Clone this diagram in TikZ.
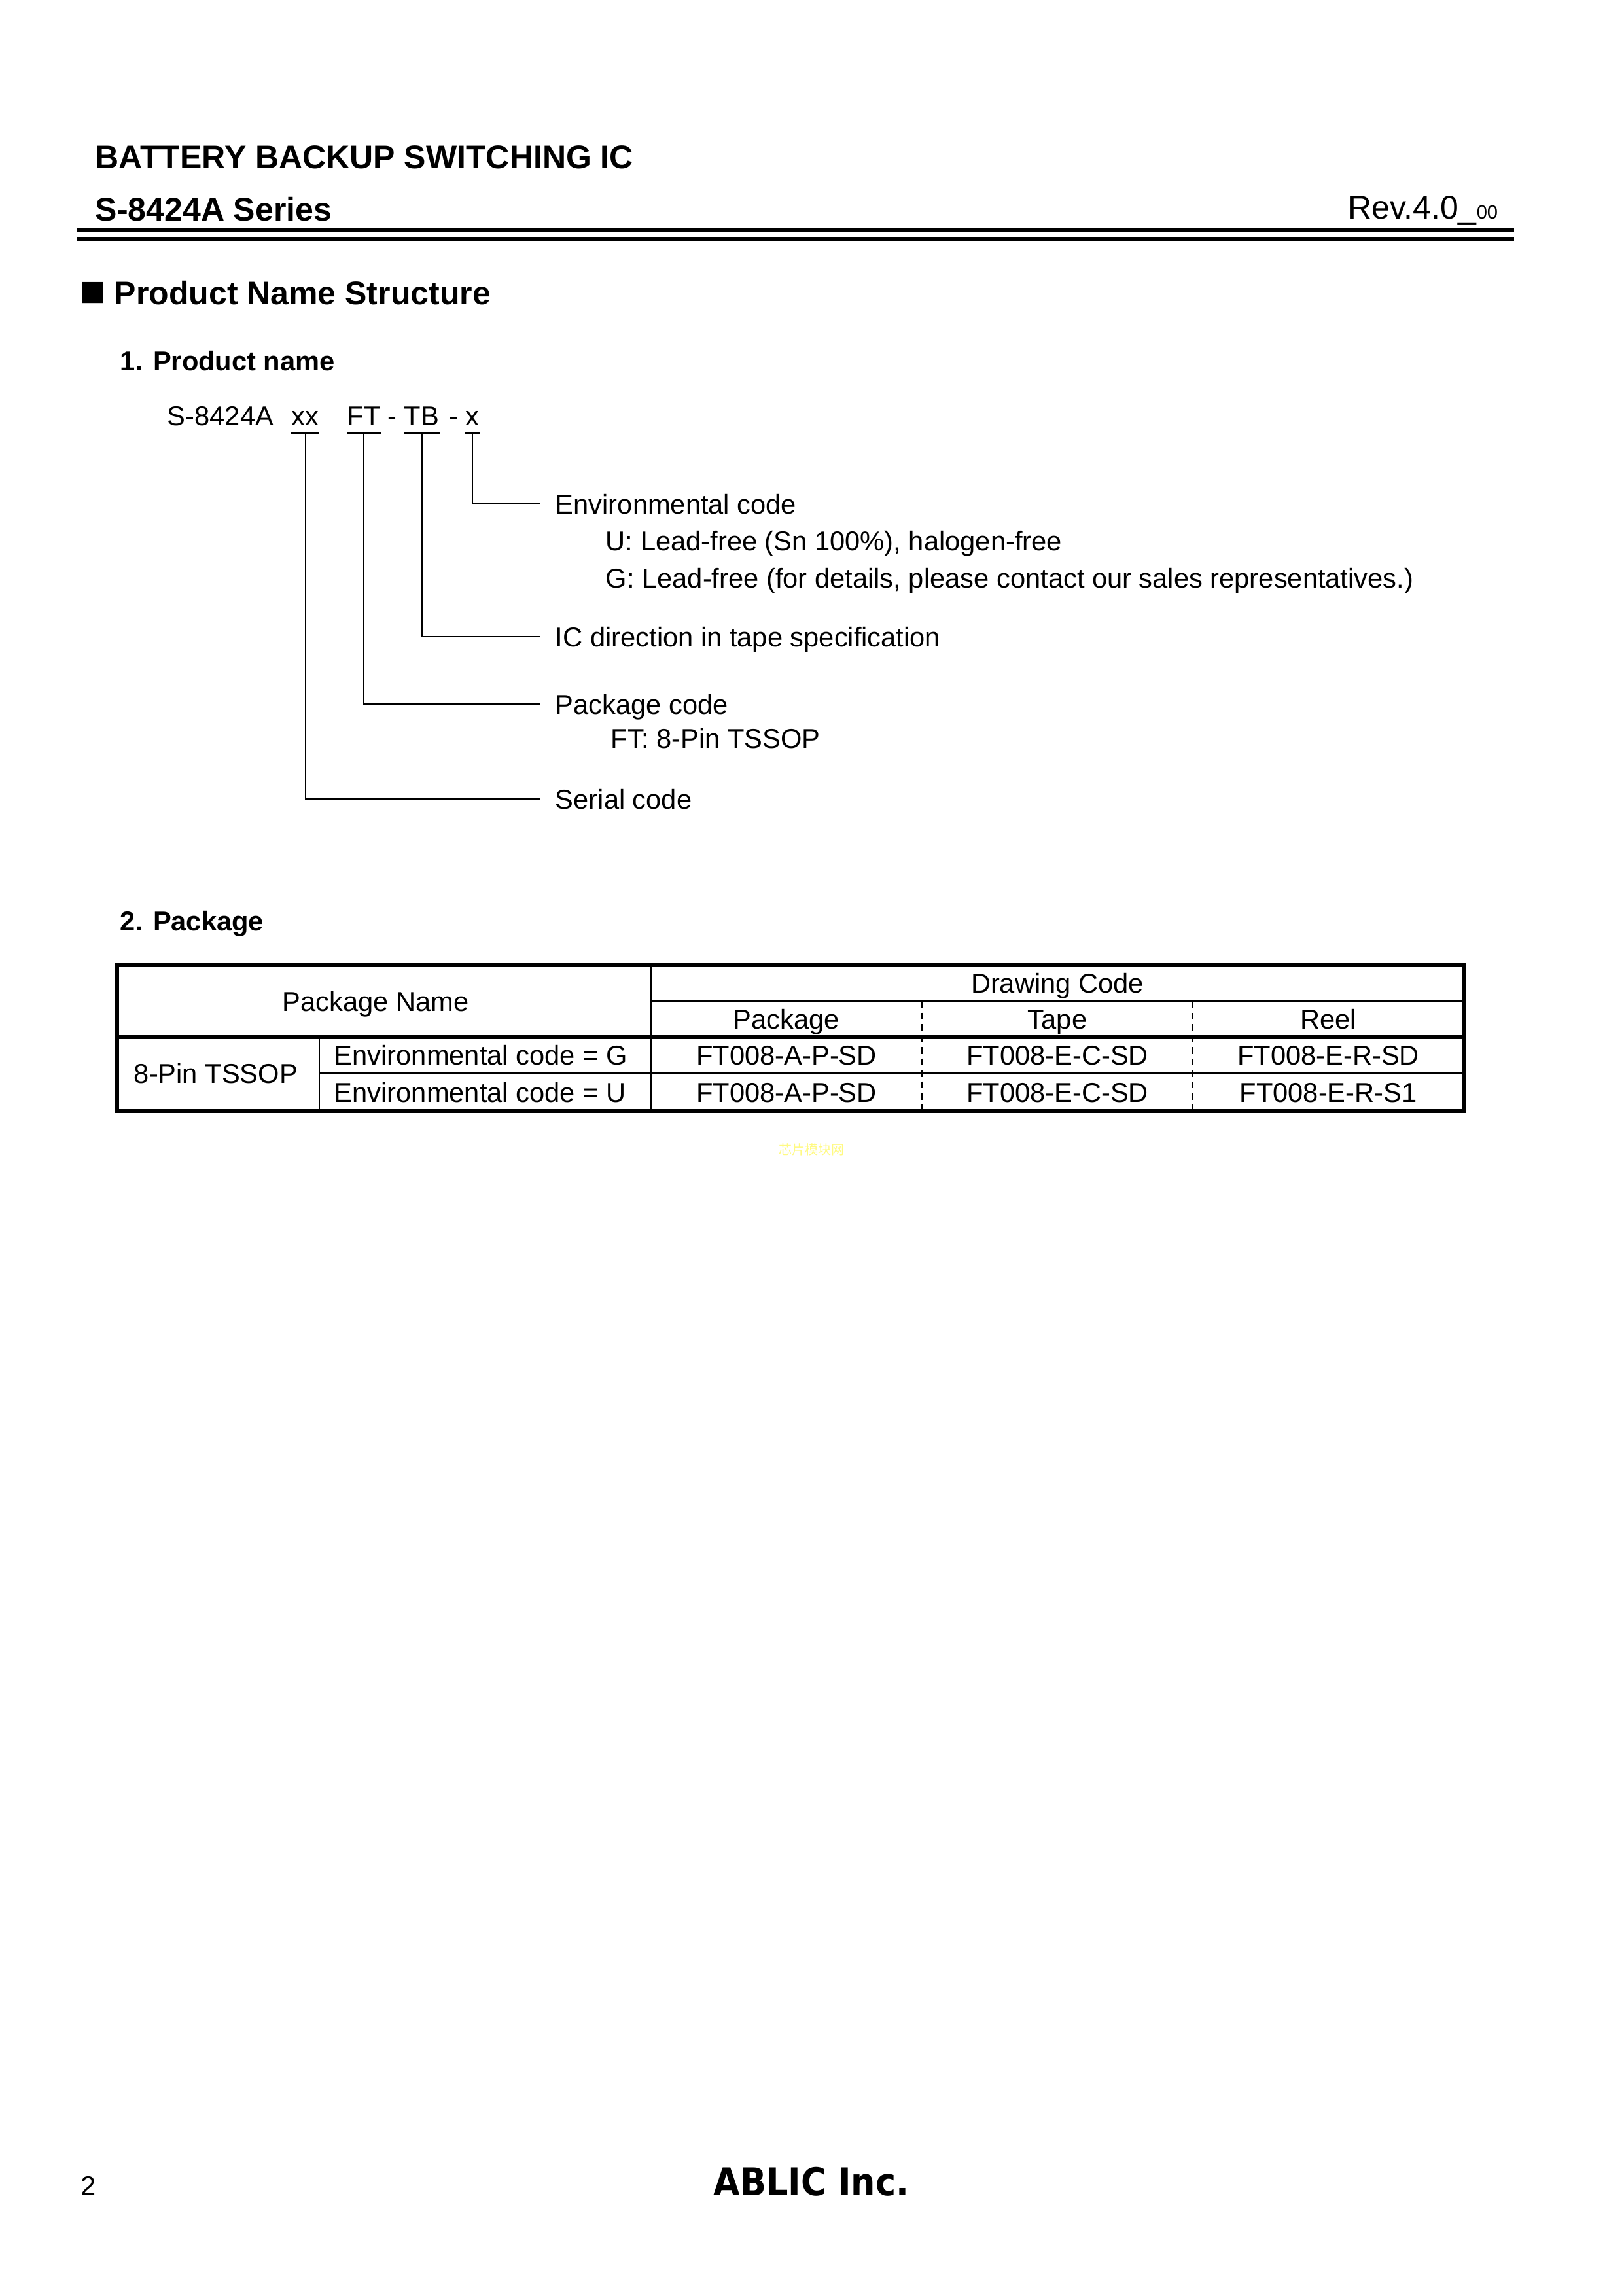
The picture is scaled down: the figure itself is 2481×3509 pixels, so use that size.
\documentclass[tikz,border=0pt]{standalone}
\usepackage{fontspec}
\setmainfont{Liberation Sans}
\newfontfamily\cjkfont{Noto Sans CJK SC}
\newfontfamily\logofont{DejaVu Sans}
\usepackage{tikz}
\usepackage{xcolor}
\usetikzlibrary{positioning, calc}
\definecolor{markyellow}{RGB}{255,250,130}

\begin{document}
\begin{tikzpicture}[
    x=0.24pt, y=-0.24pt,
    pagetext/.style={anchor=base west, inner sep=0pt, font=\fontsize{10}{12}\selectfont},
    headtext/.style={anchor=base west, inner sep=0pt, font=\fontsize{12}{14}\selectfont\bfseries},
    subtext/.style={anchor=base west, inner sep=0pt, font=\fontsize{10}{12}\selectfont\bfseries},
    codepart/.style={anchor=base west, inner xsep=0pt, inner ysep=2.4pt, font=\fontsize{10}{12}\selectfont},
    codelabel/.style={anchor=west, inner xsep=5.3pt, inner ysep=0pt, text height=7.2pt, text depth=0pt, font=\fontsize{10}{12}\selectfont},
    cell/.style={inner sep=0pt, text height=7.2pt, text depth=0pt, font=\fontsize{10}{12}\selectfont},
    codebar/.style={line width=0.8pt},
    leader/.style={line width=0.55pt},
    gridthick/.style={line width=1.4pt},
    gridmid/.style={line width=0.8pt},
    gridthin/.style={line width=0.5pt},
    griddash/.style={line width=0.7pt, dash pattern=on 2.6pt off 1.6pt}
]
    \path[fill=white, use as bounding box] (0,0) rectangle (2481,3509);

    % Header
    \node[headtext] (title) at (145,258) {BATTERY BACKUP SWITCHING IC};
    \node[headtext] (series) at (145,338) {S-8424A Series};
    \node[anchor=base east, inner sep=0pt] (rev) at (2290,335) {\fontsize{12}{14}\selectfont Rev.4.0\_{\fontsize{7}{8}\selectfont 00}};
    \draw[line width=1.4pt] (117,352) -- (2314,352);
    \draw[line width=1.4pt] (117,365) -- (2314,365);

    % Product name
    \node[anchor=base west, inner sep=0pt, font=\fontsize{16}{18}\selectfont] (square) at (121,468) {■};
    \node[headtext] (section) at (174,466) {Product Name Structure};
    \node[subtext] (namehead) at (183,567) {1. Product name};
    \node[pagetext] (prefix) at (255,651) {S-8424A};
    \node[codepart] (serialx) at (445,651) {xx};
    \node[codepart] (pkgft) at (530,651) {FT};
    \node[pagetext] (dash1) at (592,651) {-};
    \node[codepart] (tapetb) at (617,651) {TB};
    \node[pagetext] (dash2) at (686,651) {-};
    \node[codepart] (envx) at (711,651) {x};

    \node[codelabel] (envlabel) at (826,770) {Environmental code};
    \node[pagetext] (envu) at (925,841) {U: Lead-free (Sn 100\%), halogen-free};
    \node[pagetext] (envg) at (925,898) {G: Lead-free (for details, please contact our sales representatives.)};
    \node[codelabel] (tapelabel) at (826,973) {IC direction in tape specification};
    \node[codelabel] (pkglabel) at (826,1076) {Package code};
    \node[pagetext] (pkgft8) at (933,1143) {FT: 8-Pin TSSOP};
    \node[codelabel] (seriallabel) at (826,1221) {Serial code};

    \foreach \part in {serialx, pkgft, tapetb, envx}
        \draw[codebar] (\part.south west) -- (\part.south east);
    \draw[leader] (envx.south) |- (envlabel.west);
    \draw[leader] (tapetb.south) |- (tapelabel.west);
    \draw[leader] (pkgft.south) |- (pkglabel.west);
    \draw[leader] (serialx.south) |- (seriallabel.west);

    % Package table
    \node[subtext] (pkghead) at (183,1422) {2. Package};
    \draw[gridthick] (179,1475) rectangle (2237,1698);
    \draw[gridthick] (179,1585) -- (2237,1585);
    \draw[gridmid] (995,1530) -- (2237,1530);
    \draw[gridthin] (488,1640) -- (2237,1640);
    \draw[gridthin] (995,1475) -- (995,1698);
    \draw[gridthin] (488,1585) -- (488,1698);
    \draw[griddash] (1409,1530) -- (1409,1698);
    \draw[griddash] (1823,1530) -- (1823,1698);

    \node[cell] (pkgname) at (574,1530) {Package Name};
    \node[cell] (drawcode) at (1616,1502) {Drawing Code};
    \node[cell] (colpkg) at (1202,1557) {Package};
    \node[cell] (coltape) at (1616,1557) {Tape};
    \node[cell] (colreel) at (2030,1557) {Reel};
    \node[cell, anchor=west] (tssop) at (204,1640) {8-Pin TSSOP};
    \node[cell, anchor=west] (rowg) at (510,1612) {Environmental code = G};
    \node[cell, anchor=west] (rowu) at (510,1669) {Environmental code = U};
    \node[cell] (gpkg) at (1202,1612) {FT008-A-P-SD};
    \node[cell] (gtape) at (1616,1612) {FT008-E-C-SD};
    \node[cell] (greel) at (2030,1612) {FT008-E-R-SD};
    \node[cell] (upkg) at (1202,1669) {FT008-A-P-SD};
    \node[cell] (utape) at (1616,1669) {FT008-E-C-SD};
    \node[cell] (ureel) at (2030,1669) {FT008-E-R-S1};

    \node[inner sep=0pt, text=markyellow, font=\cjkfont\fontsize{4.8}{5}\selectfont] (mark) at (1240,1757) {芯片模块网};

    % Footer
    \node[pagetext] (pageno) at (123,3355) {2};
    \node[anchor=base, inner sep=0pt] (logo) at (1240,3355) {\scalebox{0.9}[1]{\logofont\bfseries\fontsize{14}{16}\selectfont ABLIC Inc.}};
\end{tikzpicture}
\end{document}
